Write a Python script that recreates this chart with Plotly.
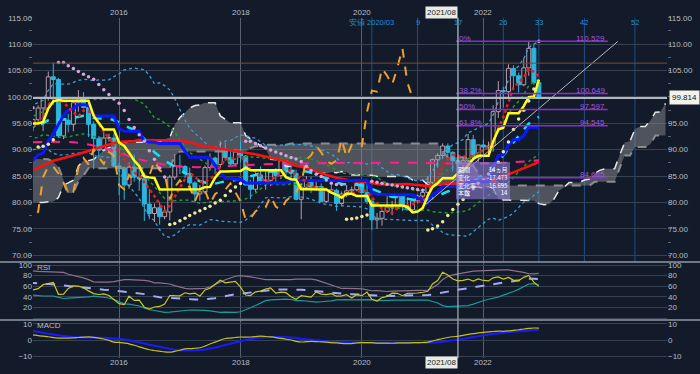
import numpy as np
import pandas as pd
import plotly.graph_objects as go

# ---------------- data: monthly CAD/JPY-like OHLC, 2008-01 .. 2022-12 ----------------
start_month = '2008-01-01'
opens = [
    112.8, 105.9, 105.5, 97.2, 103.3, 106.3, 104.3, 105.3, 102.5, 98.5, 81.2, 77.5,
    74.3, 73.2, 76.8, 78.5, 82.4, 87.3, 83.0, 87.6, 85.0, 83.9, 83.4, 81.7,
    88.6, 84.4, 84.6, 92.0, 93.0, 87.6, 83.1, 84.0, 79.1, 81.2, 78.8, 81.7,
    81.5, 82.0, 84.3, 85.6, 85.8, 84.1, 83.4, 80.5, 78.2, 73.6, 78.1, 76.2,
    75.6, 76.2, 82.1, 83.1, 81.0, 75.8, 78.3, 78.0, 79.4, 79.3, 79.9, 83.1,
    87.2, 91.7, 89.9, 92.6, 96.7, 97.0, 94.2, 95.2, 93.2, 95.4, 94.3, 96.3,
    99.0, 91.5, 92.0, 93.2, 93.2, 93.9, 95.0, 94.3, 95.7, 97.9, 99.7, 103.8,
    103.3, 92.6, 95.6, 94.8, 98.9, 99.8, 98.0, 94.8, 92.1, 89.9, 92.2, 92.2,
    86.9, 86.5, 83.3, 86.7, 84.8, 84.5, 79.7, 77.9, 79.0, 77.3, 78.2, 84.8,
    86.9, 86.8, 85.5, 83.7, 81.6, 82.0, 86.6, 88.4, 87.2, 90.1, 88.5, 87.3,
    89.6, 88.8, 83.3, 82.5, 85.2, 84.1, 84.2, 85.8, 85.1, 87.9, 86.1, 85.5,
    80.6, 82.9, 84.2, 82.9, 83.0, 80.2, 82.4, 82.3, 79.8, 81.6, 82.2, 82.4,
    83.6, 81.9, 80.2, 76.7, 77.0, 78.3, 79.1, 79.1, 81.2, 79.2, 78.6, 80.3,
    81.2, 81.9, 83.8, 88.1, 88.9, 90.7, 89.5, 87.9, 87.3, 87.9, 91.9, 88.6,
    90.9, 90.5, 90.7, 97.2, 101.2, 101.0, 105.4, 104.0, 102.3, 105.5, 109.2, 102.7,
]
highs = [
    113.5, 108.5, 106.0, 104.2, 106.8, 107.0, 106.9, 105.8, 104.0, 99.0, 85.5, 79.5,
    77.5, 78.5, 80.9, 83.5, 87.8, 89.2, 88.1, 88.3, 86.5, 87.5, 86.0, 88.9,
    88.9, 86.5, 92.3, 94.1, 93.5, 89.0, 85.8, 84.8, 82.5, 81.9, 83.3, 83.2,
    83.5, 84.8, 86.2, 88.2, 86.3, 84.5, 84.0, 81.5, 79.8, 78.9, 78.5, 77.2,
    77.2, 82.3, 84.2, 83.4, 81.5, 78.9, 78.7, 79.8, 81.0, 81.1, 83.3, 87.3,
    92.5, 93.3, 94.1, 98.5, 100.2, 97.4, 97.6, 96.0, 97.3, 96.0, 97.6, 99.5,
    99.4, 93.5, 94.0, 94.2, 94.4, 95.4, 95.6, 95.9, 98.4, 100.0, 104.8, 106.5,
    103.6, 96.3, 96.8, 99.2, 101.3, 100.9, 98.3, 95.4, 92.6, 93.3, 93.0, 93.0,
    87.5, 86.8, 87.6, 89.1, 86.3, 85.0, 82.6, 79.8, 80.0, 79.4, 85.2, 89.2,
    89.0, 87.1, 86.6, 84.0, 83.3, 87.0, 89.3, 88.7, 91.6, 91.3, 89.7, 90.1,
    91.6, 89.0, 84.3, 85.8, 86.8, 85.9, 86.0, 86.5, 88.2, 88.1, 86.9, 86.2,
    83.6, 85.0, 84.9, 84.0, 83.6, 82.6, 83.4, 82.6, 82.1, 83.3, 83.0, 84.0,
    84.0, 83.5, 80.6, 78.0, 78.6, 81.2, 80.3, 81.4, 81.4, 80.7, 80.7, 81.5,
    82.3, 85.0, 88.3, 89.3, 91.2, 91.2, 89.7, 88.2, 88.5, 93.0, 92.8, 90.9,
    91.9, 91.5, 98.4, 103.0, 101.9, 106.2, 106.0, 104.6, 107.3, 110.529, 109.9, 103.3,
]
lows = [
    101.5, 102.5, 94.5, 96.5, 101.5, 102.8, 102.0, 100.5, 95.0, 72.5, 73.5, 70.5,
    69.5, 70.0, 74.5, 76.5, 81.5, 81.8, 79.5, 84.0, 82.0, 82.5, 80.0, 81.5,
    83.5, 83.0, 84.2, 90.5, 83.0, 83.0, 82.0, 78.5, 79.0, 78.0, 78.0, 80.5,
    80.8, 81.5, 79.0, 85.0, 81.6, 81.0, 79.3, 76.5, 73.5, 72.8, 74.1, 74.9,
    74.8, 76.0, 81.5, 80.3, 75.6, 75.4, 75.8, 77.8, 78.5, 78.5, 79.5, 82.8,
    86.5, 88.5, 89.0, 90.5, 93.5, 90.8, 93.5, 91.5, 92.6, 93.2, 93.4, 95.8,
    91.2, 90.5, 90.8, 91.8, 92.7, 93.0, 93.7, 93.5, 95.2, 93.5, 99.3, 98.5,
    92.3, 92.0, 93.3, 93.5, 97.2, 97.8, 92.4, 86.3, 88.4, 89.6, 91.5, 86.7,
    81.4, 80.5, 82.6, 83.9, 82.2, 76.5, 76.8, 76.3, 75.8, 76.8, 76.6, 84.3,
    85.4, 84.6, 82.4, 80.1, 80.3, 81.6, 86.0, 85.3, 86.5, 87.9, 86.9, 86.9,
    87.6, 83.2, 80.6, 82.0, 83.3, 82.4, 83.1, 83.6, 84.4, 84.6, 84.6, 80.4,
    76.8, 82.4, 81.8, 82.2, 80.2, 79.9, 81.8, 78.4, 79.5, 81.0, 81.6, 82.1,
    81.7, 79.7, 74.8, 75.0, 75.6, 78.0, 77.6, 78.6, 78.4, 78.5, 78.0, 79.8,
    80.6, 81.1, 83.5, 86.6, 88.3, 88.0, 85.9, 84.665, 85.3, 87.6, 87.9, 87.6,
    89.2, 89.4, 89.6, 96.0, 98.0, 99.8, 101.5, 100.8, 102.0, 104.0, 102.3, 99.6,
]
closes = [
    105.9, 105.5, 97.2, 103.3, 106.3, 104.3, 105.3, 102.5, 98.5, 81.2, 77.5, 74.3,
    73.2, 76.8, 78.5, 82.4, 87.3, 83.0, 87.6, 85.0, 83.9, 83.4, 81.7, 88.6,
    84.4, 84.6, 92.0, 93.0, 87.6, 83.1, 84.0, 79.1, 81.2, 78.8, 81.7, 81.5,
    82.0, 84.3, 85.6, 85.8, 84.1, 83.4, 80.5, 78.2, 73.6, 78.1, 76.2, 75.6,
    76.2, 82.1, 83.1, 81.0, 75.8, 78.3, 78.0, 79.4, 79.3, 79.9, 83.1, 87.2,
    91.7, 89.9, 92.6, 96.7, 97.0, 94.2, 95.2, 93.2, 95.4, 94.3, 96.3, 99.0,
    91.5, 92.0, 93.2, 93.2, 93.9, 95.0, 94.3, 95.7, 97.9, 99.7, 103.8, 103.3,
    92.6, 95.6, 94.8, 98.9, 99.8, 98.0, 94.8, 92.1, 89.9, 92.2, 92.2, 86.9,
    86.5, 83.3, 86.7, 84.8, 84.5, 79.7, 77.9, 79.0, 77.3, 78.2, 84.8, 86.9,
    86.8, 85.5, 83.7, 81.6, 82.0, 86.6, 88.4, 87.2, 90.1, 88.5, 87.3, 89.6,
    88.8, 83.3, 82.5, 85.2, 84.1, 84.2, 85.8, 85.1, 87.9, 86.1, 85.5, 80.6,
    82.9, 84.2, 82.9, 83.0, 80.2, 82.4, 82.3, 79.8, 81.6, 82.2, 82.4, 83.6,
    81.9, 80.2, 76.7, 77.0, 78.3, 79.1, 79.1, 81.2, 79.2, 78.6, 80.3, 81.2,
    81.9, 83.8, 88.1, 88.9, 90.7, 89.5, 87.9, 87.3, 87.9, 91.9, 88.6, 90.9,
    90.5, 90.7, 97.2, 101.2, 101.0, 105.4, 104.0, 102.3, 105.5, 109.2, 102.7, 99.814,
]

# long moving average (magenta dashed)
long_ma_dates = ['2014-08-01', '2015-05-01', '2015-11-01', '2016-05-01', '2016-12-01', '2017-06-01',
                 '2018-02-01', '2019-01-01', '2020-01-01', '2021-01-01', '2021-09-01', '2022-05-01', '2022-12-01']
long_ma_vals = [91.4, 91.3, 90.0, 88.2, 86.9, 86.7, 87.1, 87.4, 87.5, 87.5, 87.35, 87.5, 88.0]

# Fibonacci retracement
fib_labels = ['0%', '38.2%', '50%', '61.8%', '']
fib_levels = [110.529, 100.649, 97.597, 94.545, 84.665]
fib_span = ['2021-07-20', '2024-01-20']

# Fibonacci time zones
ftz_dates = ['2020-03-01', '2020-12-01', '2021-08-01', '2022-05-01', '2022-12-01', '2023-09-01', '2024-07-01']
ftz_labels = ['安値 2020/03', '9', '17', '26', '33', '42', '52']

# trend line, horizontal lines
trend_dates = ['2021-01-15', '2024-03-20']
trend_prices = [79.5, 110.5]
last_price = 99.814
resist_level = 106.4

# measurement box
box_keys = ['期間', '変化', '変化率', '本数']
box_vals = ['14ヵ月', '-17.473', '-16.695', '14']

year_ticks = ['2016-01-01', '2018-01-01', '2020-01-01', '2022-01-01']
year_text = ['2016', '2018', '2020', '2022']
cross_date = '2021-08-01'
cross_text = '2021/08'

# ---------------- indicators ----------------
o = np.array(opens); h = np.array(highs); l = np.array(lows); c = np.array(closes)
n = len(c)
dates = pd.date_range(start_month, periods=n, freq='MS')
SH = 25
all_dates = pd.date_range(start_month, periods=n + SH, freq='MS')
H = pd.Series(h); L = pd.Series(l); C = pd.Series(c)

def mid(w):
    return ((H.rolling(w).max() + L.rolling(w).min()) / 2).values

tenkan = mid(9)
kijun = mid(26)
spanA = (tenkan + kijun) / 2
spanB = mid(52)
cloud_x = all_dates[SH:]
chikou_x = dates[:n - SH]
chikou_y = c[SH:]

sma20 = C.rolling(20).mean().values
sd20 = C.rolling(20).std(ddof=0).values
sma5 = C.rolling(5).mean().values
sma48 = C.rolling(48).mean().values

# parabolic SAR
sar = np.full(n, np.nan); up = np.zeros(n, bool)
trend_up = True; af = 0.02; ep = h[0]; sar[0] = l[0]; up[0] = True
for i in range(1, n):
    s = sar[i - 1] + af * (ep - sar[i - 1])
    if trend_up:
        s = min(s, l[i - 1], l[i - 2] if i > 1 else l[i - 1])
        if l[i] < s:
            trend_up = False; s = ep; ep = l[i]; af = 0.02
        elif h[i] > ep:
            ep = h[i]; af = min(af + 0.02, 0.2)
    else:
        s = max(s, h[i - 1], h[i - 2] if i > 1 else h[i - 1])
        if h[i] > s:
            trend_up = True; s = ep; ep = h[i]; af = 0.02
        elif l[i] < ep:
            ep = l[i]; af = min(af + 0.02, 0.2)
    sar[i] = s; up[i] = trend_up

# RSI (Cutler, 14) with bands
d = np.diff(c, prepend=np.nan)
g = pd.Series(np.where(d > 0, d, 0.0)).rolling(14).sum()
ls = pd.Series(np.where(d < 0, -d, 0.0)).rolling(14).sum()
rsi = (100 * g / (g + ls))
rsi_mid = rsi.rolling(20).mean().values
rsi_sd = rsi.rolling(20).std(ddof=0).values
rsi = rsi.values

# MACD (12/26 moving averages, 9 signal)
macd_s = C.rolling(12).mean() - C.rolling(26).mean()
signal = macd_s.rolling(9).mean().values
macd = macd_s.values

# ---------------- figure ----------------
BG = '#131b2a'
fig = go.Figure()

def line(x, y, color, width=1.5, dash='solid', ax='y', shape='linear'):
    xa = 'x' if ax in ('y', 'y4') else ('x2' if ax in ('y2', 'y5') else 'x3')
    fig.add_trace(go.Scatter(x=x, y=y, mode='lines', xaxis=xa, yaxis=ax,
                             line=dict(color=color, width=width, dash=dash, shape=shape),
                             hoverinfo='skip', showlegend=False))

# cloud
line(cloud_x, spanA, '#e6e6e6', 1.5, 'dash')
fig.add_trace(go.Scatter(x=cloud_x, y=spanB, mode='lines', line=dict(color='#8c8c8c', width=2, dash='dash'),
                         fill='tonexty', fillcolor='rgba(150,152,156,0.45)', hoverinfo='skip', showlegend=False))

# bollinger
line(dates, sma20 + 2 * sd20, '#3a9fd6', 1.3, 'dot')
line(dates, sma20 - 2 * sd20, '#3a9fd6', 1.3, 'dot')
line(dates, sma20 + sd20, '#1f9a2a', 1.5, 'dot')
line(dates, sma20 - sd20, '#1f9a2a', 1.5, 'dot')

# candles (bodies as bars, wicks as line segments)
UPC = '#b49cac'; DNC = '#2cb6de'
body_lo = np.minimum(o, c); body_hi = np.maximum(o, c)
isup = c >= o
bw = 24 * 86400000
for mask, col, fillc in ((isup, UPC, 'rgba(0,0,0,0)'), (~isup, DNC, DNC)):
    wx, wy = [], []
    for dt, lo_, hi_, bl, bh in zip(dates[mask], l[mask], h[mask], body_lo[mask], body_hi[mask]):
        wx += [dt, dt, None, dt, dt, None]
        wy += [hi_, bh, None, bl, lo_, None]
    fig.add_trace(go.Scatter(x=wx, y=wy, mode='lines', line=dict(color=col, width=1),
                             hoverinfo='skip', showlegend=False))
    fig.add_trace(go.Bar(x=dates[mask], y=np.maximum(body_hi[mask] - body_lo[mask], 0.08), base=body_lo[mask],
                         width=bw, marker=dict(color=fillc, line=dict(color=col, width=1)),
                         hoverinfo='skip', showlegend=False))

line(long_ma_dates, long_ma_vals, '#ff1e8c', 2, 'dash', shape='spline')
line(dates, sma48, '#ff1010', 2.5)
line(dates, sma20, '#18e2f2', 2.5, 'dash')
line(dates, kijun, '#0a18ff', 3)
line(chikou_x, chikou_y, '#f0a228', 2, 'dash')
line(dates, sma5, '#f01c1c', 2.5, 'dot')
line(dates, tenkan, '#ffff10', 2.5)

# SAR
above = ~up
fig.add_trace(go.Scatter(x=dates[above], y=sar[above], mode='markers', marker=dict(color='#d8a4e0', size=3.5),
                         hoverinfo='skip', showlegend=False))
fig.add_trace(go.Scatter(x=dates[up], y=sar[up], mode='markers', marker=dict(color='#ecec9c', size=3.5),
                         hoverinfo='skip', showlegend=False))

# trend line
line(trend_dates, trend_prices, '#b4b8bc', 1)

# RSI panel
line(dates, rsi_mid + 2 * rsi_sd, '#8e7090', 1.2, ax='y2')
line(dates, rsi_mid - 2 * rsi_sd, '#169c9c', 1.2, ax='y2')
line(dates, rsi_mid, '#a4aaf4', 2, 'dash', ax='y2')
line(dates, rsi, '#c8c820', 1.2, ax='y2')

# MACD panel
line(dates, signal, '#1a1aff', 2, ax='y3', shape='spline')
line(dates, macd, '#c0c020', 1.2, ax='y3', shape='spline')

# dummy traces for right-side axes
for ax, xa in (('y4', 'x'), ('y5', 'x2'), ('y6', 'x3')):
    fig.add_trace(go.Scatter(x=[dates[-1]], y=[None], xaxis=xa, yaxis=ax, mode='lines',
                             hoverinfo='skip', showlegend=False))

# ---------------- layout ----------------
W, Hh = 700, 374
def py(p):
    return 1 - p / Hh
def px(p):
    return (p - 33) / 634.0

main_dom = [py(263), py(14)]
rsi_dom = [py(322), py(263)]
macd_dom = [py(361), py(322)]
main_rng = [115 - 249 / 5.378, 115]
rsi_rng = [-3.7, 105.6]
macd_rng = [-11.21, 12.42]
xr = ['2014-08-01', '2025-01-10']

GRID = '#364152'
VGRID = '#566170'
TICKF = dict(size=8, color='#b8bcc4', family='Liberation Sans, Arial')

xcommon = dict(type='date', range=xr, tickvals=year_ticks, showticklabels=False, showgrid=True,
               gridcolor=VGRID, gridwidth=1, zeroline=False, showline=False, ticks='')
main_t = list(range(70, 116, 5))
main_lab_l = [f'{v:.2f}' for v in main_t]
main_lab_r = ['' if v == 100 else f'{v:.2f}' for v in main_t]
rsi_t = [0, 20, 40, 60, 80, 100]
rsi_lab = ['', '20', '40', '60', '80', '100']
ycommon = dict(showline=False, zeroline=False, ticks='', tickfont=TICKF, gridcolor=GRID, gridwidth=1)
MINOR = dict(dtick=2.5, ticks='outside', ticklen=3, tickcolor='#5a6472', showgrid=False)

fig.update_layout(
    width=W, height=Hh, margin=dict(l=33, r=33, t=0, b=0),
    paper_bgcolor=BG, plot_bgcolor=BG, showlegend=False, barmode='overlay',
    font=dict(family='Liberation Sans, Arial', size=8, color='#c0c4cc'),
    xaxis=dict(domain=[0, 1], anchor='y', rangeslider=dict(visible=False), **xcommon),
    xaxis2=dict(domain=[0, 1], anchor='y2', matches='x', **xcommon),
    xaxis3=dict(domain=[0, 1], anchor='y3', matches='x', **xcommon),
    yaxis=dict(domain=main_dom, range=main_rng, tickvals=main_t, ticktext=main_lab_l,
               anchor='x', side='left', showgrid=True, minor=MINOR, **ycommon),
    yaxis4=dict(range=main_rng, tickvals=main_t, ticktext=main_lab_r, overlaying='y',
                anchor='x', side='right', showgrid=False, minor=MINOR, **ycommon),
    yaxis2=dict(domain=rsi_dom, range=rsi_rng, tickvals=rsi_t, ticktext=rsi_lab, anchor='x2', side='left',
                showgrid=True, **ycommon),
    yaxis5=dict(range=rsi_rng, tickvals=rsi_t, ticktext=rsi_lab, overlaying='y2', anchor='x2', side='right',
                showgrid=False, **ycommon),
    yaxis3=dict(domain=macd_dom, range=macd_rng, tickvals=[-10, 0, 10], anchor='x3', side='left',
                showgrid=True, **ycommon),
    yaxis6=dict(range=macd_rng, tickvals=[-10, 0, 10], overlaying='y3', anchor='x3', side='right',
                showgrid=False, **ycommon),
)

shapes = []
ann = []
# horizontal reference lines
shapes.append(dict(type='line', xref='paper', yref='y', x0=0, x1=1, y0=resist_level, y1=resist_level,
                   line=dict(color='#7a4c34', width=1)))
shapes.append(dict(type='line', xref='paper', yref='y', x0=0, x1=1, y0=last_price, y1=last_price,
                   line=dict(color='#b4b8bc', width=2)))
# fib time zones
for dte, t in zip(ftz_dates, ftz_labels):
    shapes.append(dict(type='line', xref='x', yref='paper', x0=dte, x1=dte, y0=main_dom[0], y1=main_dom[1],
                       line=dict(color='#1f4f86', width=1), layer='below'))
    ann.append(dict(x=dte, y=py(19), xref='x', yref='paper', text=t, showarrow=False,
                    font=dict(size=7.5, color='#2a8ad8'), xanchor='center', yanchor='middle'))
# fib retracement
for lab, lv in zip(fib_labels, fib_levels):
    shapes.append(dict(type='line', xref='x', yref='y', x0=fib_span[0], x1=fib_span[1], y0=lv, y1=lv,
                       line=dict(color='#8a2cd0', width=1.5)))
    if lab:
        ann.append(dict(x=fib_span[0], y=lv, xref='x', yref='y', text=lab, showarrow=False, xanchor='left',
                        yanchor='middle', yshift=3, xshift=1, font=dict(size=8, color='#a256dc')))
    ann.append(dict(x=fib_span[1], y=lv, xref='x', yref='y', text=f'{lv:.3f}', showarrow=False, xanchor='right',
                    yanchor='middle', yshift=3, xshift=-1, font=dict(size=8, color='#a256dc')))
# crosshair
shapes.append(dict(type='line', xref='x', yref='paper', x0=cross_date, x1=cross_date, y0=macd_dom[0],
                   y1=main_dom[1], line=dict(color='#c8ccd2', width=1)))
# panel separators
for yy in (main_dom[0], rsi_dom[0]):
    shapes.append(dict(type='line', xref='paper', yref='paper', x0=-0.06, x1=1.06, y0=yy, y1=yy,
                       line=dict(color='#8e98a6', width=1.5)))
# info box
shapes.append(dict(type='rect', xref='paper', yref='paper', x0=px(456), x1=px(510), y0=py(199), y1=py(161),
                   fillcolor='rgba(140,122,212,0.62)', line=dict(width=0)))
BOXF = dict(size=6, color='#ffffff', family='Noto Sans CJK JP')
ann.append(dict(x=px(457.5), y=py(180), xref='paper', yref='paper', text='<br>'.join(box_keys), showarrow=False,
                xanchor='left', yanchor='middle', align='left', font=BOXF, borderpad=0))
ann.append(dict(x=px(509), y=py(180), xref='paper', yref='paper', text='<br>'.join(box_vals), showarrow=False,
                xanchor='right', yanchor='middle', align='right', font=BOXF, borderpad=0))

# year labels top and bottom
for dte, t in zip(year_ticks, year_text):
    ann.append(dict(x=dte, y=py(8.5), xref='x', yref='paper', text=t, showarrow=False, yanchor='middle',
                    font=TICKF))
    ann.append(dict(x=dte, y=py(365), xref='x', yref='paper', text=t, showarrow=False, yanchor='middle',
                    font=TICKF))
for yy in (py(8.5), py(365)):
    ann.append(dict(x=cross_date, y=yy, xref='x', yref='paper', text=cross_text, showarrow=False,
                    xanchor='right', yanchor='middle', bgcolor='#e6ece6', borderpad=1,
                    font=dict(size=8, color='#1a1a1a')))
# price tag
ann.append(dict(x=1, y=last_price, xref='paper', yref='y', text=f'{last_price:.3f}', showarrow=False,
                xanchor='left', yanchor='middle', xshift=2, bgcolor='#f2f2ea', borderpad=2,
                font=dict(size=8, color='#111111')))
# panel titles
ann.append(dict(x=px(35), y=py(269), xref='paper', yref='paper', text='RSI', showarrow=False, xanchor='left',
                yanchor='middle', font=TICKF))
ann.append(dict(x=px(35), y=py(328), xref='paper', yref='paper', text='MACD', showarrow=False, xanchor='left',
                yanchor='middle', font=TICKF))

fig.update_layout(shapes=shapes, annotations=ann)
fig.write_html('out.html')
